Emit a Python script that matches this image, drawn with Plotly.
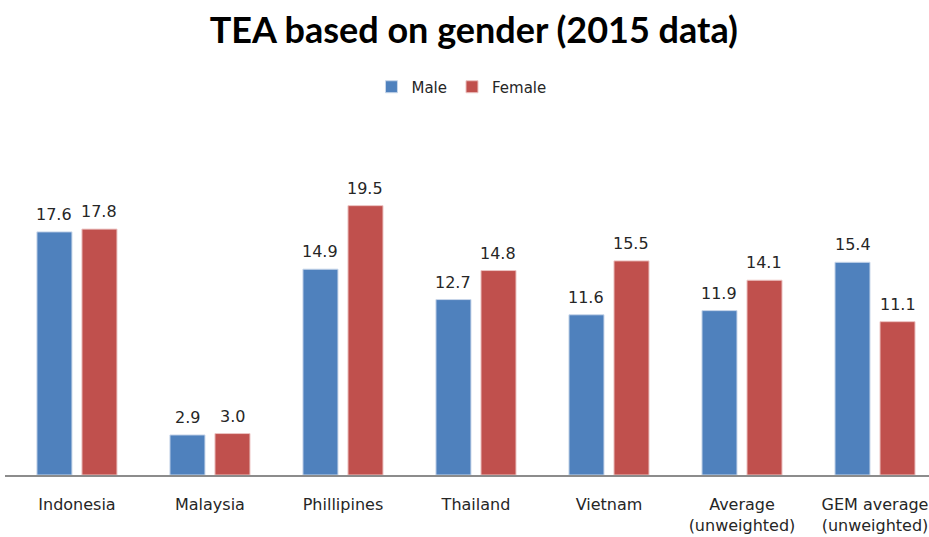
import plotly.graph_objects as go

categories = ["Indonesia", "Malaysia", "Phillipines", "Thailand", "Vietnam",
              "Average<br>(unweighted)", "GEM average<br>(unweighted)"]
male = [17.6, 2.9, 14.9, 12.7, 11.6, 11.9, 15.4]
female = [17.8, 3.0, 19.5, 14.8, 15.5, 14.1, 11.1]
series_names = ["Male", "Female"]

BLUE = "#4F81BD"
RED = "#C0504D"
FONT = "DejaVu Sans"

fig = go.Figure()
fig.add_trace(go.Bar(name=series_names[0], x=categories, y=male,
                     marker=dict(color=BLUE, line=dict(color="#c9d7ea", width=1))))
fig.add_trace(go.Bar(name=series_names[1], x=categories, y=female,
                     marker=dict(color=RED, line=dict(color="#ecc4c3", width=1))))

annotations = []
for vals, shift in ((male, -22.5), (female, 22.5)):
    for c, v in zip(categories, vals):
        annotations.append(dict(x=c, y=v, xref="x", yref="y", text=f"{v:.1f}",
                                showarrow=False, xshift=shift, yshift=6,
                                yanchor="bottom",
                                font=dict(family=FONT, size=16, color="#262626")))

fig.update_layout(
    width=929, height=537,
    margin=dict(l=5, r=0, t=120, b=62, autoexpand=False),
    paper_bgcolor="white", plot_bgcolor="white",
    title=dict(text="<b>TEA based on gender (2015 data)</b>", x=0.51, xanchor="center",
               xref="container", yref="container",
               y=0.944, yanchor="middle",
               font=dict(family="Lato", size=36, color="#000000")),
    legend=dict(orientation="h", x=0.494, xanchor="center", y=1.093, yanchor="middle",
                font=dict(family=FONT, size=15, color="#262626"),
                itemwidth=30, traceorder="normal"),
    barmode="group", bargap=0.323, bargroupgap=0.222,
    annotations=annotations,
    xaxis=dict(range=[-0.541, 6.406], showgrid=False, showline=True, automargin=False,
               linecolor="#8c8c8c", linewidth=2, ticks="outside", ticklen=14,
               tickcolor="rgba(0,0,0,0)",
               tickfont=dict(family=FONT, size=16, color="#262626")),
    yaxis=dict(range=[0, 25.7], visible=False, automargin=False),
)

fig.write_html("out.html", config={"displayModeBar": False},
               post_script="document.body.style.margin='0';document.body.style.overflow='hidden';")
